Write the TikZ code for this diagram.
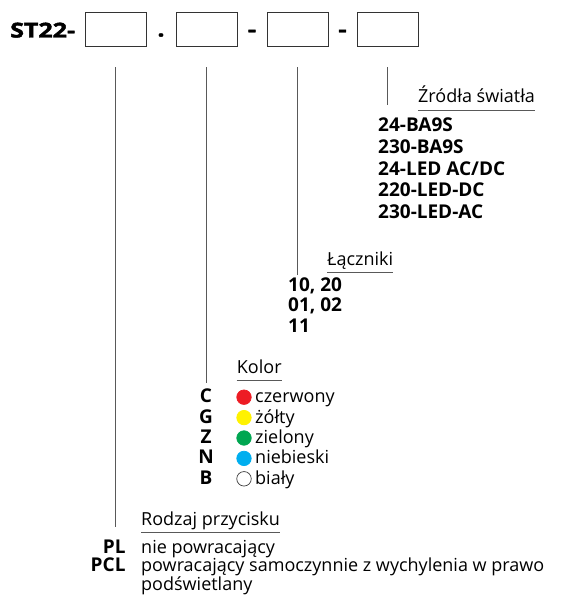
\documentclass[tikz,border=0pt]{standalone}
\usepackage{fontspec}
\setmainfont{Open Sans}
\newfontfamily\heavyfont{Open Sans}[FakeBold=2]
\usepackage{tikz}
\usetikzlibrary{positioning,calc}
\definecolor{kred}{HTML}{ED1C24}
\definecolor{kyellow}{HTML}{FFF200}
\definecolor{kgreen}{HTML}{00A651}
\definecolor{kblue}{HTML}{00AEEF}
\newcommand{\wide}[1]{\scalebox{1.22}[1]{#1}}

\begin{document}
\begin{tikzpicture}[x=1pt,y=-1pt,
  slot/.style={draw=black!80,line width=0.8pt,minimum width=61pt,minimum height=34pt,inner sep=0pt},
  lead/.style={draw=black!65,line width=1pt},
  rule/.style={draw=black!65,line width=0.8pt},
  txt/.style={font=\fontsize{18}{21}\selectfont,anchor=base west,inner sep=0pt},
  code/.style={font=\fontsize{19}{22}\selectfont\bfseries,anchor=base west,inner sep=0pt},
  big/.style={font=\fontsize{20.5}{25}\selectfont\heavyfont\bfseries,inner sep=0pt},
  lamp/.style={circle,inner sep=0pt,minimum size=14.5pt,line width=0.7pt}]
\useasboundingbox (0,0) rectangle (564,601);

% code pattern
\node[big,anchor=base west] (st) at (10,37.5) {\wide{ST22-}};
\foreach \i/\x in {1/115.5,2/206.5,3/297.5,4/387.5}
  \node[slot] (b\i) at (\x,29) {};
\foreach \a/\b/\s in {1/2/.,2/3/-,3/4/-}
  \node[big,anchor=base,yshift=-7.5pt] (s\a) at ($(b\a.east)!.5!(b\b.west)$) {\wide{\s}};

% leads down to the groups
\foreach \i/\y in {1/527,2/383,3/275,4/105}
  \draw[lead] ([yshift=-21pt]b\i.south) -- (b\i.south |- 0,\y);

% group headings
\foreach \n/\x/\y/\t in {hz/418/103/{Źródła światła},hl/327/265/{Łączniki},
  hk/236.7/373/{Kolor},hr/141/525/{Rodzaj przycisku}}{
  \node[txt] (\n) at (\x,\y) {\t};
  \draw[rule] ([yshift=-7.5pt]\n.base west) -- ([yshift=-7.5pt]\n.base east);
}

% light sources
\foreach \t [count=\n from 0] in {24-BA9S,230-BA9S,24-LED AC/DC,220-LED-DC,230-LED-AC}
  \node[code] (z\n) at (378,{131.7+21.7*\n}) {\t};

% contacts
\foreach \t [count=\n from 0] in {{10, 20},{01, 02},11}
  \node[code] (l\n) at (288,{291.7+20.2*\n}) {\t};

% colours
\foreach \c/\f/\d/\t [count=\n from 0] in {C/kred/kred/czerwony,G/kyellow/kyellow/żółty,
  Z/kgreen/kgreen/zielony,N/kblue/kblue/niebieski,B/white/black!75/biały}{
  \node[code,anchor=base] (k\n) at (206,{402.7+20.4*\n}) {\c};
  \node[lamp,fill=\f,draw=\d] (d\n) at (244,{397.2+20.4*\n}) {};
  \node[txt] (n\n) at (255,{402.7+20.4*\n}) {\t};
}

% button type
\node[code,anchor=base east] (pl) at (125.7,553) {PL};
\node[code,anchor=base east] (pcl) at (125.7,571.7) {PCL};
\node[txt] (r1) at (141,553) {nie powracający};
\node[txt] (r2) at (141,571.7) {powracający samoczynnie z wychylenia w prawo};
\node[txt] (r3) at (141,590.4) {podświetlany};
\end{tikzpicture}
\end{document}
